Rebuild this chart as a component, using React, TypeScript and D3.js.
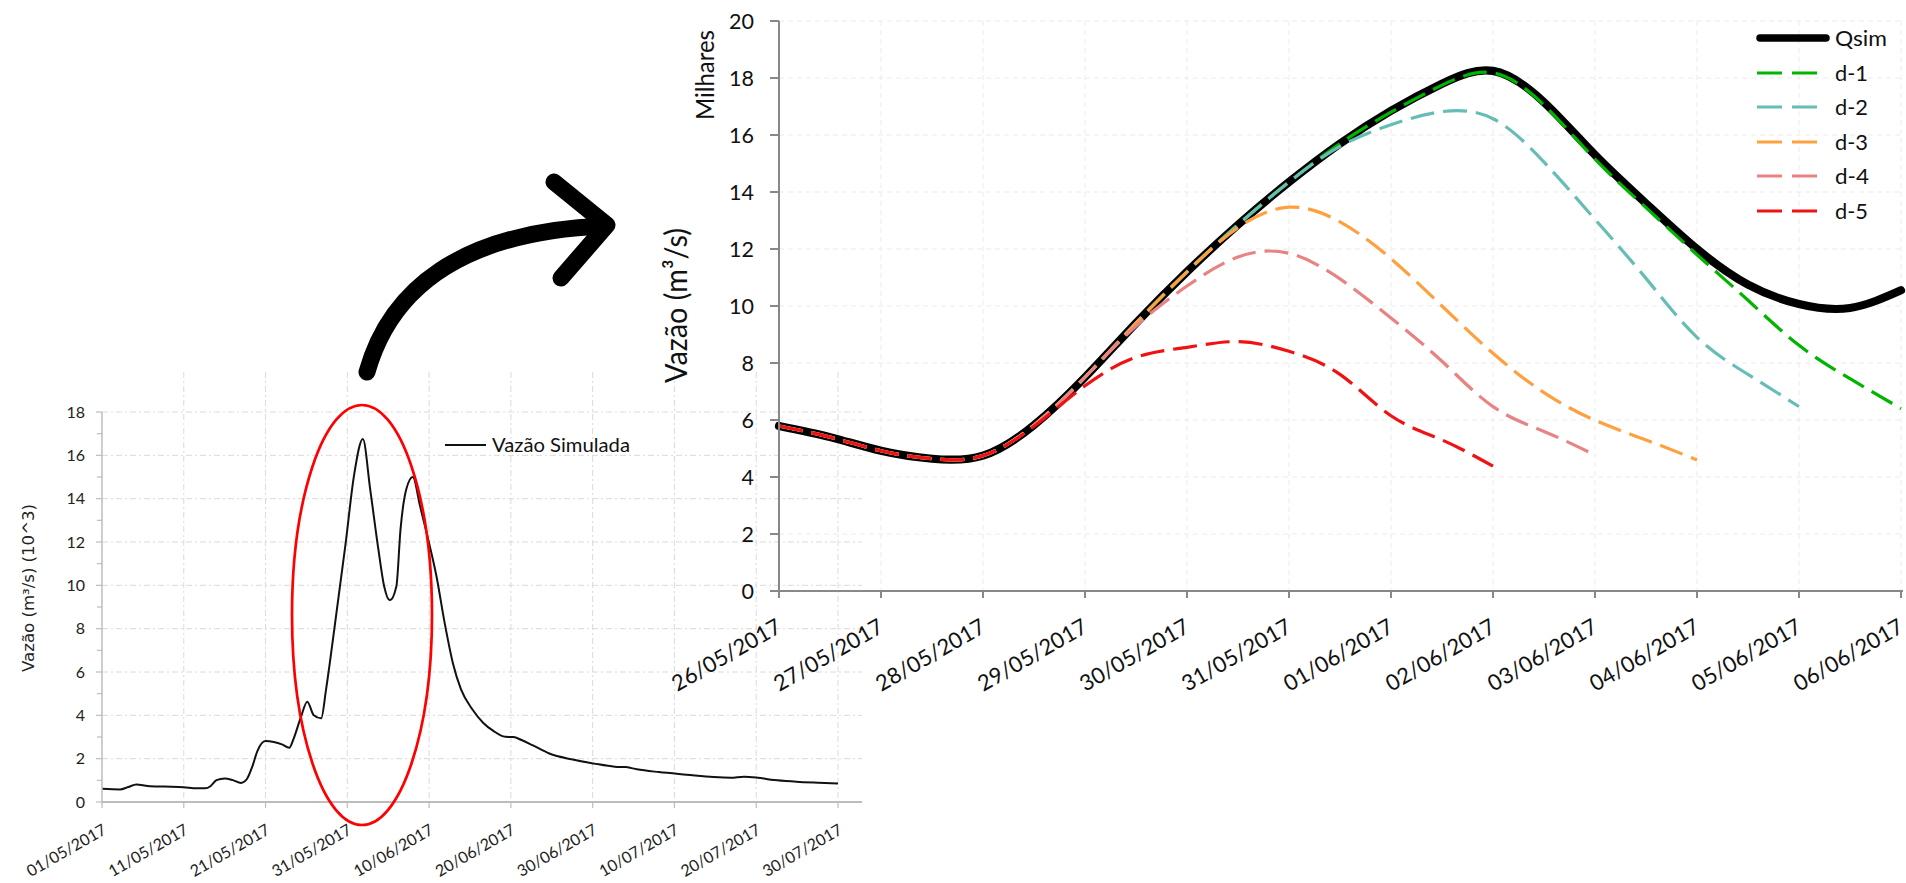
import React from "react";
import * as d3 from "d3";

// ---------- Left (overview) chart data ----------
const leftStart = Date.UTC(2017, 4, 1);
const leftEnd = Date.UTC(2017, 6, 30);
const leftDays = [0, 2.2, 3.2, 4.2, 5.6, 7.6, 10, 11.6, 12.6, 13.3, 14, 15, 16, 17, 17.7, 18.4, 19, 20, 21, 22, 22.9, 23.4, 24.3, 25.1, 25.9, 26.8, 27.4, 28.4, 29.8, 30.8, 31.9, 32.8, 33.8, 34.5, 35.2, 36, 36.5, 37.2, 38, 38.9, 39.9, 40.9, 41.9, 42.9, 43.9, 45.3, 46.6, 47.9, 49.3, 50.3, 51.3, 52.7, 54.7, 57.4, 60.1, 62.7, 64.1, 65.4, 68.1, 71.5, 74.8, 76.9, 78.5, 80.2, 82.2, 84.9, 87.6, 90];
const leftValues = [0.61, 0.58, 0.69, 0.81, 0.74, 0.71, 0.68, 0.63, 0.63, 0.74, 1.01, 1.09, 1.01, 0.88, 1.05, 1.66, 2.35, 2.81, 2.77, 2.66, 2.5, 2.89, 3.89, 4.63, 4.0, 3.86, 5.2, 7.96, 11.96, 15.03, 16.75, 14.42, 11.65, 9.96, 9.31, 9.96, 12.57, 14.42, 15.0, 13.65, 12.1, 10.42, 8.27, 6.42, 5.2, 4.27, 3.66, 3.27, 3.01, 3.0, 2.86, 2.61, 2.24, 1.97, 1.78, 1.63, 1.61, 1.51, 1.38, 1.26, 1.15, 1.12, 1.17, 1.12, 1.01, 0.94, 0.89, 0.85];
const leftSeriesName = "Vazão Simulada";
const leftYTitle = "Vazão (m³/s) (10^3)";

// ---------- Right (zoom) chart data ----------
const rightStart = Date.UTC(2017, 4, 26);
const rightEnd = Date.UTC(2017, 5, 6);
const rightDays = [0, 0.5, 1, 1.5, 2, 2.5, 3, 3.5, 4, 4.5, 5, 5.5, 6, 6.5, 7, 7.5, 8, 8.5, 9, 9.5, 10, 10.5, 11];
const qsim = [5.79, 5.4, 4.92, 4.64, 4.75, 5.82, 7.5, 9.4, 11.2, 12.85, 14.35, 15.7, 16.85, 17.8, 18.25, 17.15, 15.3, 13.6, 12.0, 10.75, 10.07, 9.93, 10.55];
const d1 = [5.79, 5.4, 4.92, 4.64, 4.75, 5.82, 7.5, 9.4, 11.2, 12.85, 14.35, 15.7, 16.8, 17.75, 18.18, 17.05, 15.15, 13.45, 11.8, 10.2, 8.62, 7.45, 6.4];
const d2 = [5.79, 5.4, 4.92, 4.64, 4.75, 5.82, 7.5, 9.4, 11.2, 12.85, 14.35, 15.6, 16.36, 16.82, 16.57, 15.05, 13.04, 10.97, 8.9, 7.6, 6.47];
const d3v = [5.79, 5.4, 4.92, 4.64, 4.75, 5.82, 7.5, 9.4, 11.2, 12.75, 13.47, 12.95, 11.66, 10.0, 8.34, 6.96, 5.99, 5.3, 4.6];
const d4 = [5.79, 5.4, 4.92, 4.64, 4.75, 5.82, 7.5, 9.3, 10.7, 11.72, 11.85, 10.95, 9.58, 8.06, 6.47, 5.6, 4.77];
const d5 = [5.79, 5.4, 4.92, 4.64, 4.75, 5.78, 7.2, 8.2, 8.55, 8.75, 8.41, 7.6, 6.15, 5.3, 4.38];
const seriesNames = ["Qsim", "d-1", "d-2", "d-3", "d-4", "d-5"];
const seriesColors = ["#000000", "#00B400", "#66BDB6", "#FFA040", "#E98282", "#F01212"];
const seriesValues = [qsim, d1, d2, d3v, d4, d5];
const rightYTitle = "Vazão (m³/s)";
const rightUnitTitle = "Milhares";

const DAY = 864e5;
const fmt = d3.utcFormat("%d/%m/%Y");
const FONT = "Lato, 'Open Sans', sans-serif";

export default function App() {
  // Left scales
  const xL = d3.scaleUtc().domain([new Date(leftStart), new Date(leftEnd)]).range([102, 838]);
  const yL = d3.scaleLinear().domain([0, 18]).range([802, 412]);
  const leftRight = 862;
  const leftTicks = d3.utcDay.range(new Date(leftStart), new Date(leftEnd + DAY), 10);
  const leftYMajor = yL.ticks(9);
  const leftYMinor = d3.range(1, 18, 2);
  const leftLine = d3
    .line<number>()
    .x((_, i) => xL(new Date(leftStart + leftDays[i] * DAY)))
    .y((v) => yL(v))
    .curve(d3.curveMonotoneX);

  // Right scales
  const xR = d3.scaleUtc().domain([new Date(rightStart), new Date(rightEnd)]).range([779, 1901]);
  const yR = d3.scaleLinear().domain([0, 20]).range([591, 21]);
  const rightTicks = d3.utcDay.range(new Date(rightStart), new Date(rightEnd + DAY));
  const rightYTicks = yR.ticks(10);
  const rightLine = d3
    .line<number>()
    .x((_, i) => xR(new Date(rightStart + rightDays[i] * DAY)))
    .y((v) => yR(v))
    .curve(d3.curveNatural);

  const legendYs = [38, 73, 107, 142, 176, 211];
  const legendLens = [52, 33, 33, 33, 34, 33];

  return (
    <svg
      width={1906}
      height={883}
      style={{ position: "absolute", left: 0, top: 0, background: "#fff" }}
      fontFamily={FONT}
    >
      {/* ===== Left chart ===== */}
      <g>
        {leftYMajor.filter((v) => v > 0).map((v) => (
          <line key={"lg" + v} x1={102} x2={leftRight} y1={yL(v)} y2={yL(v)} stroke="#DADADA" strokeDasharray="6 3 2 3" strokeWidth={1} />
        ))}
        {leftTicks.slice(1).map((t) => (
          <line key={"lv" + +t} x1={xL(t)} x2={xL(t)} y1={372} y2={802} stroke="#DADADA" strokeDasharray="6 3 2 3" strokeWidth={1} />
        ))}
        <path d={leftLine(leftValues) || ""} fill="none" stroke="#111" strokeWidth={2} />
        {/* axes */}
        <line x1={102} x2={102} y1={412} y2={802} stroke="#BDBDBD" strokeWidth={1.5} />
        <line x1={102} x2={leftRight} y1={802} y2={802} stroke="#BDBDBD" strokeWidth={1.8} />
        {leftYMajor.map((v) => (
          <g key={"ly" + v}>
            <line x1={96} x2={102} y1={yL(v)} y2={yL(v)} stroke="#BDBDBD" strokeWidth={1.2} />
            <text x={85} y={yL(v)} dy="0.36em" textAnchor="end" fontSize={16} fill="#222">
              {v}
            </text>
          </g>
        ))}
        {leftYMinor.map((v) => (
          <line key={"lm" + v} x1={97} x2={102} y1={yL(v)} y2={yL(v)} stroke="#BDBDBD" strokeWidth={1.2} />
        ))}
        {leftTicks.map((t) => (
          <g key={"lx" + +t}>
            <line x1={xL(t)} x2={xL(t)} y1={802} y2={808} stroke="#BDBDBD" strokeWidth={1.2} />
            <text transform={`translate(${xL(t) + 5.5},${802 + 31}) rotate(-30)`} textAnchor="end" fontSize={16} fill="#222">
              {fmt(t)}
            </text>
          </g>
        ))}
        <text
          transform={`translate(34,588) rotate(-90)`}
          textAnchor="middle"
          fontSize={16}
          fontFamily="'DejaVu Sans', sans-serif"
          fill="#222"
          textLength={168}
          lengthAdjust="spacingAndGlyphs"
        >
          {leftYTitle}
        </text>
        {/* legend */}
        <line x1={445} x2={486} y1={445} y2={445} stroke="#111" strokeWidth={2} />
        <text x={492} y={445} dy="0.36em" fontSize={19} fill="#111" textLength={138} lengthAdjust="spacingAndGlyphs">
          {leftSeriesName}
        </text>
      </g>

      {/* highlight ellipse */}
      <ellipse cx={362} cy={615} rx={70} ry={210} fill="none" stroke="#FF0000" strokeWidth={2.7} />

      {/* arrow */}
      <g fill="none" stroke="#000" strokeWidth={17} strokeLinecap="round" strokeLinejoin="round">
        <path d="M 367 372 C 390 290, 460 232, 604 226" />
        <path d="M 554 182 L 607 225 L 561 278" />
      </g>

      {/* ===== Right chart ===== */}
      <g>
        {rightYTicks.filter((v) => v > 0).map((v) => (
          <line key={"rg" + v} x1={779} x2={1901} y1={yR(v)} y2={yR(v)} stroke="#EBEBEB" strokeDasharray="5 4" strokeWidth={1} />
        ))}
        {rightTicks.slice(1).map((t) => (
          <line key={"rv" + +t} x1={xR(t)} x2={xR(t)} y1={21} y2={591} stroke="#EBEBEB" strokeDasharray="5 4" strokeWidth={1} />
        ))}
        {seriesValues.map((vals, i) => (
          <path
            key={"s" + i}
            d={rightLine(vals) || ""}
            fill="none"
            stroke={seriesColors[i]}
            strokeWidth={i === 0 ? 8.2 : 3.2}
            strokeDasharray={i === 0 ? undefined : "24 9"}
            strokeLinecap={i === 0 ? "round" : "butt"}
            strokeLinejoin="round"
          />
        ))}
        {/* axes */}
        <line x1={779} x2={779} y1={21} y2={591} stroke="#888" strokeWidth={2} />
        <line x1={779} x2={1903} y1={591} y2={591} stroke="#888" strokeWidth={2} />
        {rightYTicks.map((v) => (
          <g key={"ry" + v}>
            <line x1={770} x2={779} y1={yR(v)} y2={yR(v)} stroke="#888" strokeWidth={2} />
            <text x={754} y={yR(v)} dy="0.36em" textAnchor="end" fontSize={21.5} fill="#111">
              {v}
            </text>
          </g>
        ))}
        {rightTicks.map((t) => (
          <g key={"rx" + +t}>
            <line x1={xR(t)} x2={xR(t)} y1={591} y2={598} stroke="#888" strokeWidth={2} />
            <text transform={`translate(${xR(t) + 4},${591 + 40}) rotate(-30)`} textAnchor="end" fontSize={22} fill="#111">
              {fmt(t)}
            </text>
          </g>
        ))}
        <text
          transform={`translate(687,305.5) rotate(-90)`}
          textAnchor="middle"
          fontSize={30}
          fill="#111"
          textLength={155}
          lengthAdjust="spacingAndGlyphs"
        >
          {rightYTitle}
        </text>
        <text
          transform={`translate(714,75) rotate(-90)`}
          textAnchor="middle"
          fontSize={25}
          fill="#111"
          textLength={90}
          lengthAdjust="spacingAndGlyphs"
        >
          {rightUnitTitle}
        </text>
        {/* legend */}
        {seriesNames.map((n, i) => (
          <g key={"lgd" + i}>
            {i === 0 ? (
              <line x1={1760} x2={1826} y1={legendYs[i]} y2={legendYs[i]} stroke="#000" strokeWidth={7.5} strokeLinecap="round" />
            ) : (
              <line x1={1757} x2={1818} y1={legendYs[i]} y2={legendYs[i]} stroke={seriesColors[i]} strokeWidth={3.2} strokeDasharray="25 10" />
            )}
            <text x={1835} y={legendYs[i]} dy="0.36em" fontSize={22} fill="#111" textLength={legendLens[i]} lengthAdjust="spacingAndGlyphs">
              {n}
            </text>
          </g>
        ))}
      </g>
    </svg>
  );
}
